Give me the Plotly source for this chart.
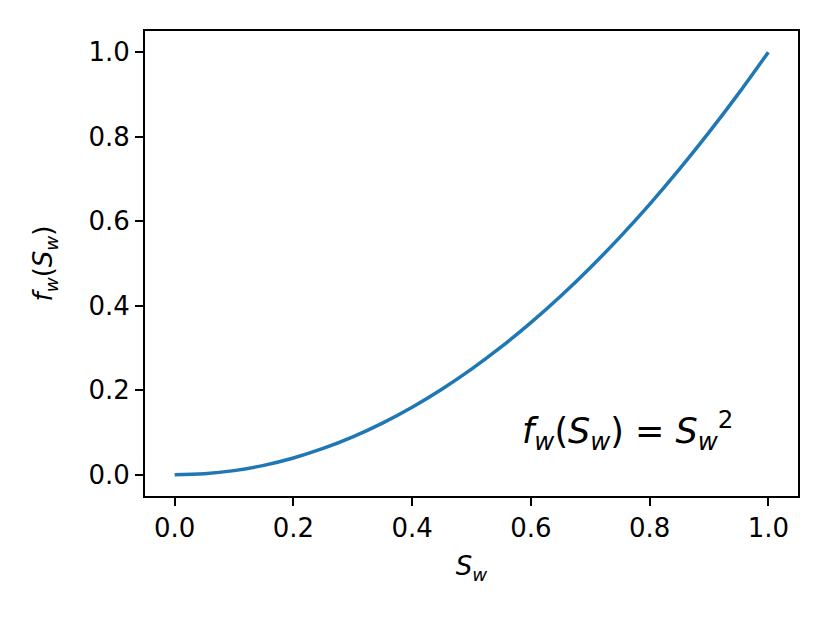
import plotly.graph_objects as go

# Data
s_w = [0.0, 0.05, 0.1, 0.15, 0.2, 0.25, 0.3, 0.35, 0.4, 0.45, 0.5,
       0.55, 0.6, 0.65, 0.7, 0.75, 0.8, 0.85, 0.9, 0.95, 1.0]
f_w = [0.0, 0.0025, 0.01, 0.0225, 0.04, 0.0625, 0.09, 0.1225, 0.16, 0.2025, 0.25,
       0.3025, 0.36, 0.4225, 0.49, 0.5625, 0.64, 0.7225, 0.81, 0.9025, 1.0]
tick_vals = [0.0, 0.2, 0.4, 0.6, 0.8, 1.0]
tick_text = ["0.0", "0.2", "0.4", "0.6", "0.8", "1.0"]

fig = go.Figure()
fig.add_trace(go.Scatter(x=s_w, y=f_w, mode="lines",
                         line=dict(color="#1f77b4", width=3.5, shape="spline"),
                         showlegend=False))

axis_common = dict(
    showgrid=False, zeroline=False, showline=True, linecolor="black", linewidth=2,
    mirror=True, ticks="outside", ticklen=8, tickwidth=2, tickcolor="black",
    tickvals=tick_vals, ticktext=tick_text,
    tickfont=dict(family="DejaVu Sans", size=26, color="black"),
)

fig.update_layout(
    width=822, height=615,
    margin=dict(l=137, r=32, t=23, b=127),
    paper_bgcolor="white", plot_bgcolor="white",
    font=dict(family="DejaVu Sans", color="black"),
    xaxis=dict(range=[-0.05, 1.05],
               title=dict(text="<i>S</i><sub><i>w</i></sub>", font=dict(size=26), standoff=15),
               **axis_common),
    yaxis=dict(range=[-0.05, 1.05],
               title=dict(text="<i>f</i><sub><i>w</i></sub>(<i>S</i><sub><i>w</i></sub>)",
                          font=dict(size=26), standoff=28),
               **axis_common),
    annotations=[dict(
        x=0.762, y=0.104, xref="x", yref="y", showarrow=False,
        text="<i>f</i><sub><i>w</i></sub>(<i>S</i><sub><i>w</i></sub>) = <i>S</i><sub><i>w</i></sub><sup>2</sup>",
        font=dict(family="DejaVu Sans", size=35, color="black"),
        xanchor="center", yanchor="middle",
    )],
)

fig.write_html("out.html")
